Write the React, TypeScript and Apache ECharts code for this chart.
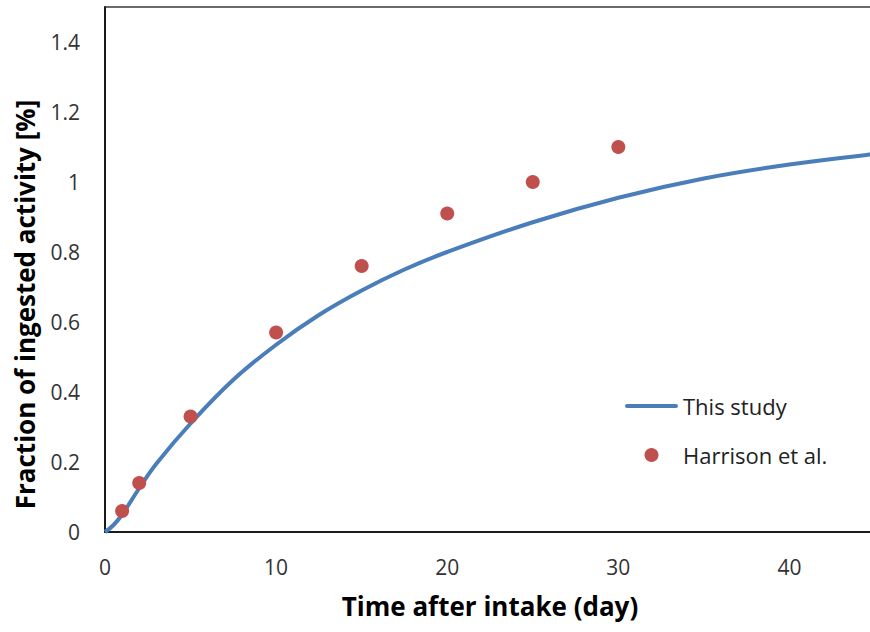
import React, { useEffect, useRef } from "react";
import * as echarts from "echarts";

// Model curve ("This study"): [day, fraction %]
const curveDays = [0, 0.5, 1, 2, 3, 5, 7.5, 10, 12.5, 15, 17.5, 20, 25, 30, 35, 40, 45, 50];
const curveValues = [0, 0.02, 0.05, 0.125, 0.195, 0.31, 0.435, 0.535, 0.62, 0.69, 0.75, 0.8, 0.885, 0.955, 1.01, 1.05, 1.08, 1.105];

// Harrison et al. data points
const harrisonDays = [1, 2, 5, 10, 15, 20, 25, 30];
const harrisonValues = [0.06, 0.14, 0.33, 0.57, 0.76, 0.91, 1.0, 1.1];

const seriesNames = ["This study", "Harrison et al."];
const xTitle = "Time after intake (day)";
const yTitle = "Fraction of ingested activity [%]";

const FONT = "'Open Sans', 'Noto Sans', sans-serif";

export default function App() {
  const ref = useRef<HTMLDivElement>(null);
  useEffect(() => {
    if (!ref.current) return;
    const chart = echarts.init(ref.current, null, { renderer: "svg" });
    chart.setOption({
      animation: false,
      backgroundColor: "#ffffff",
      textStyle: { fontFamily: FONT },
      grid: {
        left: 105,
        top: 7,
        bottom: 100,
        right: 5,
        show: true,
        borderColor: "#6a6a6a",
        borderWidth: 2,
        containLabel: false,
      },
      legend: {
        orient: "vertical",
        left: 625,
        top: 395,
        padding: 0,
        itemWidth: 53,
        itemHeight: 14,
        itemGap: 27,
        symbolKeepAspect: true,
        textStyle: { fontSize: 22, lineHeight: 20, color: "#222", fontFamily: FONT },
        data: [
          {
            name: seriesNames[0],
            icon: "path://M2,0 L51,0 A2,2 0 0 1 51,4 L2,4 A2,2 0 0 1 2,0 Z",
            itemStyle: { color: "#4a7ebb" },
          },
          { name: seriesNames[1], icon: "circle" },
        ],
      },
      xAxis: {
        type: "value",
        min: 0,
        max: 45,
        interval: 10,
        name: xTitle,
        nameLocation: "middle",
        nameGap: 61,
        nameTextStyle: { fontSize: 26, fontWeight: "bold", color: "#000", fontFamily: FONT },
        axisLine: { show: true, lineStyle: { color: "#000", width: 1.5 } },
        axisTick: { show: false },
        splitLine: { show: false },
        axisLabel: { showMaxLabel: false, fontSize: 21, color: "#333", margin: 24, fontFamily: FONT },
      },
      yAxis: {
        type: "value",
        min: 0,
        max: 1.5,
        interval: 0.2,
        name: yTitle,
        nameLocation: "middle",
        nameGap: 67,
        nameTextStyle: {
          fontSize: 26,
          fontWeight: "bold",
          color: "#000",
          fontFamily: FONT,
          padding: [0, 70, 0, 0],
        },
        axisLine: { show: true, lineStyle: { color: "#000", width: 1.5 } },
        axisTick: { show: false },
        splitLine: { show: false },
        axisLabel: { showMaxLabel: false, fontSize: 21, color: "#333", margin: 25, fontFamily: FONT },
      },
      series: [
        {
          name: seriesNames[0],
          type: "line",
          data: curveDays.map((d, i) => [d, curveValues[i]]),
          smooth: 0.4,
          symbol: "none",
          showSymbol: false,
          lineStyle: { color: "#4a7ebb", width: 4 },
          itemStyle: { color: "#4a7ebb" },
          z: 2,
        },
        {
          name: seriesNames[1],
          type: "scatter",
          data: harrisonDays.map((d, i) => [d, harrisonValues[i]]),
          symbol: "circle",
          symbolSize: 14,
          itemStyle: { color: "#c0504d", opacity: 1 },
          z: 3,
        },
      ],
    });
    return () => chart.dispose();
  }, []);
  return (
    <div
      ref={ref}
      style={{ position: "fixed", left: 0, top: 0, width: 880, height: 632, background: "#fff" }}
    />
  );
}
